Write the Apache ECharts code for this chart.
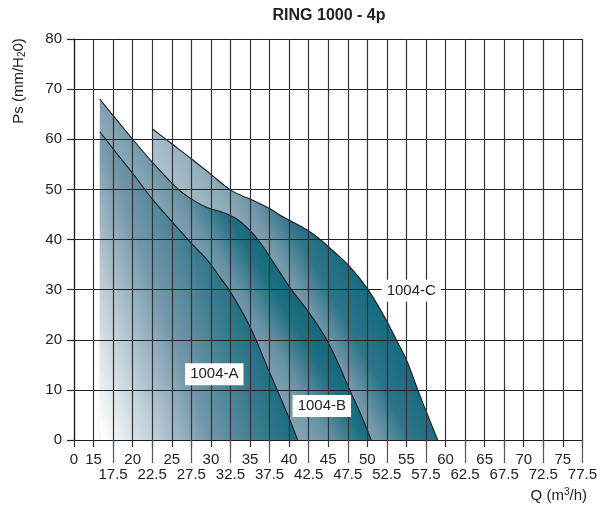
<!DOCTYPE html>
<html>
<head>
<meta charset="utf-8">
<script src="https://cdn.jsdelivr.net/npm/echarts@6/dist/echarts.min.js"></script>
<style>
html,body{margin:0;padding:0;background:#fff;}
#chart{width:600px;height:507px;}
</style>
</head>
<body>
<div id="chart"></div>
<script>
// ---- data ----
const tickLabels = ['0','15','17.5','20','22.5','25','27.5','30','32.5','35','37.5','40','42.5','45','47.5','50','52.5','55','57.5','60','62.5','65','67.5','70','72.5','75','77.5'];
const yTicks = [0,10,20,30,40,50,60,70,80];

const qA  = [15.8, 18, 20, 22.6, 25, 27.3, 28.6, 29.9, 31.1, 32.4, 35, 37.5, 40, 41.1];
const psA = [61.5, 57.1, 53.2, 47.9, 43.6, 39.6, 37.5, 35.2, 32.6, 29.8, 22.6, 13.5, 4.4, 0];

const qB  = [15.8, 20, 23, 26, 28, 29.5, 31.5, 33.3, 35, 36.3, 37.5, 38.8, 40.3, 42.6, 44.8, 46.3, 47.75, 49.2, 50.5];
const psB = [68.0, 60.0, 54.6, 49.8, 47.6, 46.4, 45.4, 44.1, 41.8, 39.4, 36.6, 33.5, 30.0, 25.3, 20.0, 15.2, 10.0, 5.0, 0];

const qC  = [22.5, 25, 27.5, 30, 32.4, 34, 35, 37.5, 38.8, 40.1, 42, 43.5, 45.5, 47.75, 50.1, 52.4, 53.7, 55, 56.45, 57.3, 59];
const psC = [62.1, 59.1, 56.1, 53.0, 50.0, 48.7, 48.1, 46.2, 44.9, 43.8, 42.2, 40.6, 37.9, 34.6, 30.0, 24.0, 20.0, 16.0, 10.0, 6.6, 0];

const curveNames = ['1004-A', '1004-B', '1004-C'];
const labelQ  = [30.44, 44.19, 55.62];
const labelPs = [13.1, 6.8, 29.8];

// ---- helpers ----
const pair = (xs, ys) => xs.map((x, i) => [x, ys[i]]);
const FONT = "'Liberation Sans', Arial, Helvetica, sans-serif";
const xMin = 12.5, xStep = 2.5, xMax = xMin + xStep * (tickLabels.length - 1);
const isLower = i => i >= 2 && i % 2 === 0;

function grad(x0, y0, x1, y1, stops) {
  return new echarts.graphic.LinearGradient(x0, y0, x1, y1,
    stops.map(s => ({offset: s[0], color: s[1]})), true);
}

const chart = echarts.init(document.getElementById('chart'), null, {renderer: 'canvas'});
const lineStyle = {color: '#1c1c1c', width: 1.1};
const labelBase = {color: '#222', fontSize: 15, fontFamily: FONT, showMinLabel: true, showMaxLabel: true};

chart.setOption({
  animation: false,
  grid: {left: 74, right: 17, top: 39, bottom: 67},
  xAxis: [
    {type: 'value', min: xMin, max: xMax, interval: xStep, z: 3,
     axisLine: {show: true, lineStyle: {color: '#1c1c1c', width: 1.2}},
     axisTick: {show: true, length: 7, lineStyle: {color: '#333', width: 1.2}},
     splitLine: {show: true, lineStyle: {color: '#333', width: 1.2}},
     axisLabel: {show: false}},
    {type: 'category', data: tickLabels, boundaryGap: false, position: 'bottom', offset: 0, z: 3,
     axisLine: {show: false}, axisTick: {show: false}, splitLine: {show: false},
     axisLabel: Object.assign({margin: 12, interval: i => !isLower(i)}, labelBase)},
    {type: 'category', data: tickLabels, boundaryGap: false, position: 'bottom', offset: 0, z: 3,
     axisLine: {show: false}, splitLine: {show: false},
     axisTick: {show: true, length: 23, interval: i => isLower(i), lineStyle: {color: '#555', width: 1.2}},
     axisLabel: Object.assign({margin: 27, interval: i => isLower(i)}, labelBase)}
  ],
  yAxis: {type: 'value', min: yTicks[0], max: yTicks[yTicks.length - 1], interval: 10, z: 3,
    axisLine: {show: true, lineStyle: {color: '#1c1c1c', width: 1.2}},
    axisTick: {show: true, length: 7, lineStyle: {color: '#222', width: 1.2}},
    splitLine: {show: true, lineStyle: {color: '#222', width: 1.2}},
    axisLabel: {color: '#222', fontSize: 15, fontFamily: FONT, margin: 12}},
  series: [
    {name: curveNames[2], type: 'line', data: pair(qC, psC), smooth: 0.35, symbol: 'none', z: 2,
     lineStyle: lineStyle,
     areaStyle: {opacity: 1, color: grad(159, 183, 276, 118,
       [[0, '#b2c5cf'], [0.35, '#8eabba'], [0.52, '#7297a9'], [0.72, '#2c7489'], [1, '#146a7e']])}},
    {name: curveNames[1], type: 'line', data: pair(qB, psB), smooth: 0.35, symbol: 'none', z: 2,
     lineStyle: lineStyle,
     areaStyle: {opacity: 1, color: grad(257, 446, 352, 388,
       [[0, '#a9bfca'], [0.45, '#7a9eb0'], [0.6, '#6690a3'], [0.85, '#1f6f83'], [1, '#146a7e']])}},
    {name: curveNames[0], type: 'line', data: pair(qA, psA), smooth: 0.35, symbol: 'none', z: 2,
     lineStyle: lineStyle,
     areaStyle: {opacity: 1, color: grad(100, 430, 288, 364,
       [[0, '#ffffff'], [0.25, '#bdcdd6'], [0.5, '#7397aa'], [0.75, '#3a7b8f'], [0.92, '#1b6d81'], [1, '#15697d']])}}
  ]
});

const graphics = [
  {type: 'text', x: 329, y: 16, z: 50,
   style: {text: 'RING 1000 - 4p', font: 'bold 16px ' + FONT, fill: '#222', align: 'center', verticalAlign: 'middle'}},
  {type: 'text', x: 19, y: 81, rotation: Math.PI / 2, z: 50,
   style: {text: 'Ps (mm/H{sub|2}0)', font: '15px ' + FONT, fill: '#222', align: 'center', verticalAlign: 'middle',
     rich: {sub: {fontSize: 10, fontFamily: FONT, padding: [7, 0, 0, 0]}}}},
  {type: 'text', x: 587, y: 496, z: 50,
   style: {text: 'Q (m{sup|3}/h)', font: '15px ' + FONT, fill: '#222', align: 'right', verticalAlign: 'middle',
     rich: {sup: {fontSize: 10, fontFamily: FONT, padding: [0, 0, 7, 0]}}}}
];
curveNames.forEach((n, i) => {
  const p = chart.convertToPixel({xAxisIndex: 0, yAxisIndex: 0}, [labelQ[i], labelPs[i]]);
  graphics.push({type: 'text', x: p[0], y: p[1], z: 60,
    style: {text: n, font: '15px ' + FONT, fill: '#222', align: 'center', verticalAlign: 'middle',
      backgroundColor: '#ffffff', padding: [4, 5, 3, 5]}});
});
chart.setOption({graphic: graphics});
</script>
</body>
</html>
